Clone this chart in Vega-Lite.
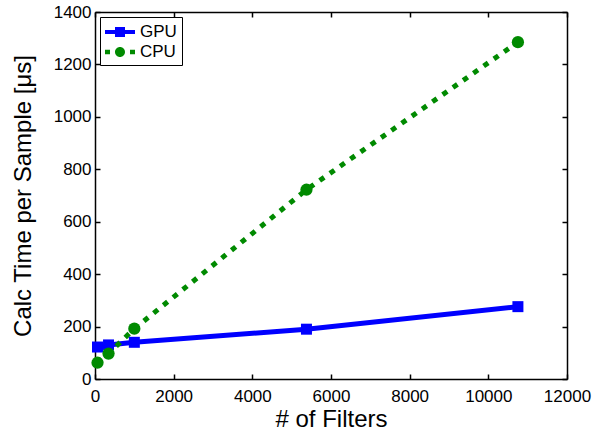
{
  "$schema": "https://vega.github.io/schema/vega-lite/v6.json",
  "width": 472,
  "height": 367,
  "autosize": "none",
  "padding": {"left": 95, "top": 12, "right": 41, "bottom": 51},
  "background": "white",
  "config": {
    "view": {"stroke": null},
    "font": "Liberation Sans",
    "axis": {
      "grid": false,
      "domainColor": "black",
      "domainWidth": 1.5,
      "tickColor": "black",
      "tickWidth": 1.5,
      "tickSize": -5,
      "labelFont": "Liberation Sans",
      "labelFontSize": 17,
      "labelColor": "black",
      "titleFont": "Liberation Sans",
      "titleFontSize": 24,
      "titleFontWeight": "normal",
      "titleColor": "black"
    },
    "legend": {
      "labelFont": "Liberation Sans",
      "labelFontSize": 17,
      "labelColor": "black"
    }
  },
  "data": {
    "values": [
      {"filters": 64, "time": 122, "series": "GPU"},
      {"filters": 344, "time": 130, "series": "GPU"},
      {"filters": 1000, "time": 140, "series": "GPU"},
      {"filters": 5376, "time": 190, "series": "GPU"},
      {"filters": 10752, "time": 276, "series": "GPU"},
      {"filters": 64, "time": 62, "series": "CPU"},
      {"filters": 344, "time": 97, "series": "CPU"},
      {"filters": 1000, "time": 192, "series": "CPU"},
      {"filters": 5376, "time": 722, "series": "CPU"},
      {"filters": 10752, "time": 1285, "series": "CPU"}
    ]
  },
  "layer": [
    {
      "transform": [{"filter": "datum.series === 'GPU'"}],
      "mark": {"type": "line", "strokeWidth": 5, "color": "#0000FF"},
      "encoding": {
        "x": {
          "field": "filters", "type": "quantitative",
          "scale": {"domain": [0, 12000], "nice": false},
          "axis": {"orient": "bottom", "title": "# of Filters", "values": [0, 2000, 4000, 6000, 8000, 10000, 12000], "format": "d", "labelPadding": 14, "titlePadding": 3, "labelFlush": false}
        },
        "y": {
          "field": "time", "type": "quantitative",
          "scale": {"domain": [0, 1400], "nice": false},
          "axis": {"orient": "left", "title": "Calc Time per Sample [μs]", "values": [0, 200, 400, 600, 800, 1000, 1200, 1400], "format": "d", "labelPadding": 9, "titlePadding": 18, "labelFlush": false}
        }
      }
    },
    {
      "transform": [{"filter": "datum.series === 'CPU'"}],
      "mark": {"type": "line", "strokeWidth": 5, "strokeCap": "butt", "strokeDash": [5.5, 7], "color": "#008A00"},
      "encoding": {
        "x": {
          "field": "filters", "type": "quantitative",
          "axis": {"orient": "top", "title": null, "labels": false, "values": [0, 2000, 4000, 6000, 8000, 10000, 12000]}
        },
        "y": {
          "field": "time", "type": "quantitative",
          "axis": {"orient": "right", "title": null, "labels": false, "values": [0, 200, 400, 600, 800, 1000, 1200, 1400]}
        }
      }
    },
    {
      "transform": [{"filter": "datum.series === 'GPU'"}],
      "mark": {"type": "square", "filled": true, "opacity": 1, "size": 121, "color": "#0000FF"},
      "encoding": {
        "x": {"field": "filters", "type": "quantitative", "axis": null},
        "y": {"field": "time", "type": "quantitative", "axis": null}
      }
    },
    {
      "transform": [{"filter": "datum.series === 'CPU'"}],
      "mark": {"type": "circle", "filled": true, "opacity": 1, "size": 150, "color": "#008A00"},
      "encoding": {
        "x": {"field": "filters", "type": "quantitative", "axis": null},
        "y": {"field": "time", "type": "quantitative", "axis": null}
      }
    },
    {
      "mark": {"type": "point", "filled": true, "opacity": 0, "size": 1},
      "encoding": {
        "x": {"field": "filters", "type": "quantitative", "axis": null},
        "y": {"field": "time", "type": "quantitative", "axis": null},
        "color": {
          "field": "series", "type": "nominal",
          "scale": {"domain": ["GPU", "CPU"], "range": ["#0000FF", "#008A00"]},
          "legend": {
            "title": null,
            "orient": "top-left",
            "offset": 5,
            "padding": 5,
            "strokeColor": "black",
            "fillColor": "white",
            "symbolOffset": 5,
            "labelOffset": 10,
            "rowPadding": 2,
            "symbolSize": 400,
            "symbolOpacity": 1,
            "symbolStrokeWidth": 0
          }
        },
        "shape": {
          "field": "series", "type": "nominal",
          "scale": {"domain": ["GPU", "CPU"], "range": ["M-1.5,-0.2H1.5V0.2H-1.5Z M-0.5,-0.5H0.5V0.5H-0.5Z", "M-1.5,-0.22H-1.0V0.22H-1.5Z M1.0,-0.22H1.5V0.22H1.0Z M-0.5,0A0.5,0.5 0 1,0 0.5,0A0.5,0.5 0 1,0 -0.5,0Z"]},
          "legend": {
            "title": null,
            "orient": "top-left",
            "offset": 5,
            "padding": 5,
            "strokeColor": "black",
            "fillColor": "white",
            "symbolOffset": 5,
            "labelOffset": 10,
            "rowPadding": 2,
            "symbolSize": 400,
            "symbolOpacity": 1,
            "symbolStrokeWidth": 0
          }
        }
      }
    }
  ],
  "resolve": {"axis": {"x": "independent", "y": "independent"}}
}
